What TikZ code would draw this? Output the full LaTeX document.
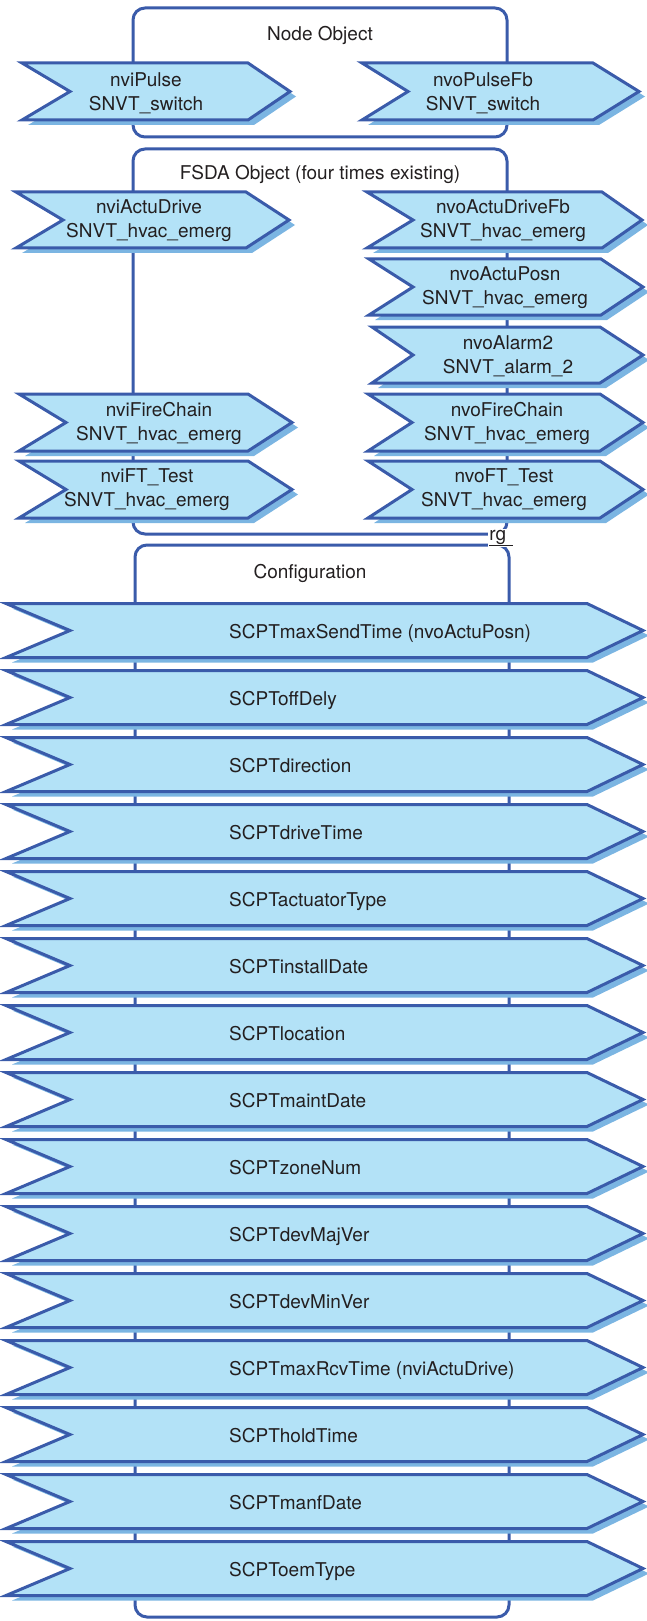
\documentclass[tikz,border=0pt]{standalone}
\usepackage{fontspec}
\setmainfont{TeX Gyre Heros}
\usepackage{tikz}

\begin{document}
\begin{tikzpicture}[x=1pt,y=1pt,yscale=-1,
  sig/.style={draw={rgb, 255:red, 58; green, 91; blue, 170 }, line width=3pt, line join=miter,
    fill={rgb, 255:red, 179; green, 226; blue, 247 },
    preaction={fill={rgb, 255:red, 123; green, 181; blue, 226 }, draw=none, transform canvas={xshift=6pt,yshift=-5pt}}},
  obj/.style={draw={rgb, 255:red, 58; green, 91; blue, 170 }, line width=3pt, rounded corners=12pt},
  lbl/.style={text={rgb, 255:red, 35; green, 31; blue, 32 }, align=center, inner sep=0pt, font=\fontsize{19}{24}\selectfont},
  cfg/.style={text={rgb, 255:red, 35; green, 31; blue, 32 }, anchor=west, inner sep=0pt, text height=13.6pt, text depth=0pt, font=\fontsize{19}{24}\selectfont}]
\useasboundingbox (0,0) rectangle (646,1621);

%Shape: Rounded Rect
\draw [obj] (133,8) rectangle (507,137) ;
%Shape: Rounded Rect
\draw [obj] (133,149) rectangle (507,534) ;
%Shape: Rounded Rect
\draw [obj] (135,545) rectangle (509,1617) ;

% Text Node
\draw (320,35) node (nodeobj) [lbl] {Node Object};
% Text Node
\draw (320,174) node (fsdaobj) [lbl] {FSDA Object (four times existing)};
% Text Node
\draw (310,573) node (config) [lbl] {Configuration};

%Shape: Arrow
\draw [sig] (22,63) -- (248,63) -- (290,91.5) -- (248,120) -- (22,120) -- (70,91.5) -- cycle ;
%Shape: Arrow
\draw [sig] (362,63) -- (593,63) -- (639,91.5) -- (593,120) -- (362,120) -- (408,91.5) -- cycle ;
% Text Node
\draw (146,93) node (nviPulse) [lbl] {nviPulse\\SNVT\_switch};
% Text Node
\draw (483,93) node (nvoPulseFb) [lbl] {nvoPulseFb\\SNVT\_switch};

%Shape: Arrow
\draw [sig] (16,192) -- (246,192) -- (289,220) -- (246,248) -- (16,248) -- (63,220) -- cycle ;
%Shape: Arrow
\draw [sig] (19,394) -- (248,394) -- (292,422.5) -- (248,451) -- (19,451) -- (66,422.5) -- cycle ;
%Shape: Arrow
\draw [sig] (19,461) -- (248,461) -- (292,489.5) -- (248,518) -- (19,518) -- (66,489.5) -- cycle ;
% Text Node
\draw (149,221) node (nviActuDrive) [lbl] {nviActuDrive\\SNVT\_hvac\_emerg};
% Text Node
\draw (159,423) node (nviFireChain) [lbl] {nviFireChain\\SNVT\_hvac\_emerg};
% Text Node
\draw (147,490) node (nviFTTest) [lbl] {nviFT\_Test\\SNVT\_hvac\_emerg};

%Shape: Arrow
\draw [sig] (367,192) -- (602,192) -- (642,220) -- (602,248) -- (367,248) -- (413,220) -- cycle ;
%Shape: Arrow
\draw [sig] (369,259) -- (601,259) -- (643,287) -- (601,315) -- (369,315) -- (413,287) -- cycle ;
%Shape: Arrow
\draw [sig] (372,327) -- (600,327) -- (643,355) -- (600,383) -- (372,383) -- (413,355) -- cycle ;
%Shape: Arrow
\draw [sig] (368,394) -- (600,394) -- (643,422.5) -- (600,451) -- (368,451) -- (412,422.5) -- cycle ;
%Shape: Arrow
\draw [sig] (368,461) -- (600,461) -- (643,489.5) -- (600,518) -- (368,518) -- (412,489.5) -- cycle ;
% Text Node
\draw (503,221) node (nvoActuDriveFb) [lbl] {nvoActuDriveFb\\SNVT\_hvac\_emerg};
% Text Node
\draw (505,288) node (nvoActuPosn) [lbl] {nvoActuPosn\\SNVT\_hvac\_emerg};
% Text Node
\draw (508,356) node (nvoAlarm2) [lbl] {nvoAlarm2\\SNVT\_alarm\_2};
% Text Node
\draw (507,423) node (nvoFireChain) [lbl] {nvoFireChain\\SNVT\_hvac\_emerg};
% Text Node
\draw (504,490) node (nvoFTTest) [lbl] {nvoFT\_Test\\SNVT\_hvac\_emerg};

% Text Node
\draw (501,538) node (rg) [lbl, fill=white, inner sep=1pt] {\underline{rg\,\,}};

%Shape: Arrow
\draw [sig] (6,603.5) -- (587,603.5) -- (643,630.5) -- (587,657.5) -- (6,657.5) -- (70,630.5) -- cycle ;
%Shape: Arrow
\draw [sig] (6,670.5) -- (587,670.5) -- (643,697.5) -- (587,724.5) -- (6,724.5) -- (70,697.5) -- cycle ;
%Shape: Arrow
\draw [sig] (6,737.5) -- (587,737.5) -- (643,764.5) -- (587,791.5) -- (6,791.5) -- (70,764.5) -- cycle ;
%Shape: Arrow
\draw [sig] (6,804.5) -- (587,804.5) -- (643,831.5) -- (587,858.5) -- (6,858.5) -- (70,831.5) -- cycle ;
%Shape: Arrow
\draw [sig] (6,871.5) -- (587,871.5) -- (643,898.5) -- (587,925.5) -- (6,925.5) -- (70,898.5) -- cycle ;
%Shape: Arrow
\draw [sig] (6,938.5) -- (587,938.5) -- (643,965.5) -- (587,992.5) -- (6,992.5) -- (70,965.5) -- cycle ;
%Shape: Arrow
\draw [sig] (6,1005.5) -- (587,1005.5) -- (643,1032.5) -- (587,1059.5) -- (6,1059.5) -- (70,1032.5) -- cycle ;
%Shape: Arrow
\draw [sig] (6,1072.5) -- (587,1072.5) -- (643,1099.5) -- (587,1126.5) -- (6,1126.5) -- (70,1099.5) -- cycle ;
%Shape: Arrow
\draw [sig] (6,1139.5) -- (587,1139.5) -- (643,1166.5) -- (587,1193.5) -- (6,1193.5) -- (70,1166.5) -- cycle ;
%Shape: Arrow
\draw [sig] (6,1206.5) -- (587,1206.5) -- (643,1233.5) -- (587,1260.5) -- (6,1260.5) -- (70,1233.5) -- cycle ;
%Shape: Arrow
\draw [sig] (6,1273.5) -- (587,1273.5) -- (643,1300.5) -- (587,1327.5) -- (6,1327.5) -- (70,1300.5) -- cycle ;
%Shape: Arrow
\draw [sig] (6,1340.5) -- (587,1340.5) -- (643,1367.5) -- (587,1394.5) -- (6,1394.5) -- (70,1367.5) -- cycle ;
%Shape: Arrow
\draw [sig] (6,1407.5) -- (587,1407.5) -- (643,1434.5) -- (587,1461.5) -- (6,1461.5) -- (70,1434.5) -- cycle ;
%Shape: Arrow
\draw [sig] (6,1474.5) -- (587,1474.5) -- (643,1501.5) -- (587,1528.5) -- (6,1528.5) -- (70,1501.5) -- cycle ;
%Shape: Arrow
\draw [sig] (6,1541.5) -- (587,1541.5) -- (643,1568.5) -- (587,1595.5) -- (6,1595.5) -- (70,1568.5) -- cycle ;

% Text Node
\draw (229,632) node (maxSend) [cfg] {SCPTmaxSendTime (nvoActuPosn)};
% Text Node
\draw (229,699) node (offDely) [cfg] {SCPToffDely};
% Text Node
\draw (229,766) node (direction) [cfg] {SCPTdirection};
% Text Node
\draw (229,833) node (driveTime) [cfg] {SCPTdriveTime};
% Text Node
\draw (229,900) node (actType) [cfg] {SCPTactuatorType};
% Text Node
\draw (229,967) node (instDate) [cfg] {SCPTinstallDate};
% Text Node
\draw (229,1034) node (location) [cfg] {SCPTlocation};
% Text Node
\draw (229,1101) node (maintDate) [cfg] {SCPTmaintDate};
% Text Node
\draw (229,1168) node (zoneNum) [cfg] {SCPTzoneNum};
% Text Node
\draw (229,1235) node (majVer) [cfg] {SCPTdevMajVer};
% Text Node
\draw (229,1302) node (minVer) [cfg] {SCPTdevMinVer};
% Text Node
\draw (229,1369) node (maxRcv) [cfg] {SCPTmaxRcvTime (nviActuDrive)};
% Text Node
\draw (229,1436) node (holdTime) [cfg] {SCPTholdTime};
% Text Node
\draw (229,1503) node (manfDate) [cfg] {SCPTmanfDate};
% Text Node
\draw (229,1570) node (oemType) [cfg] {SCPToemType};

\end{tikzpicture}
\end{document}
